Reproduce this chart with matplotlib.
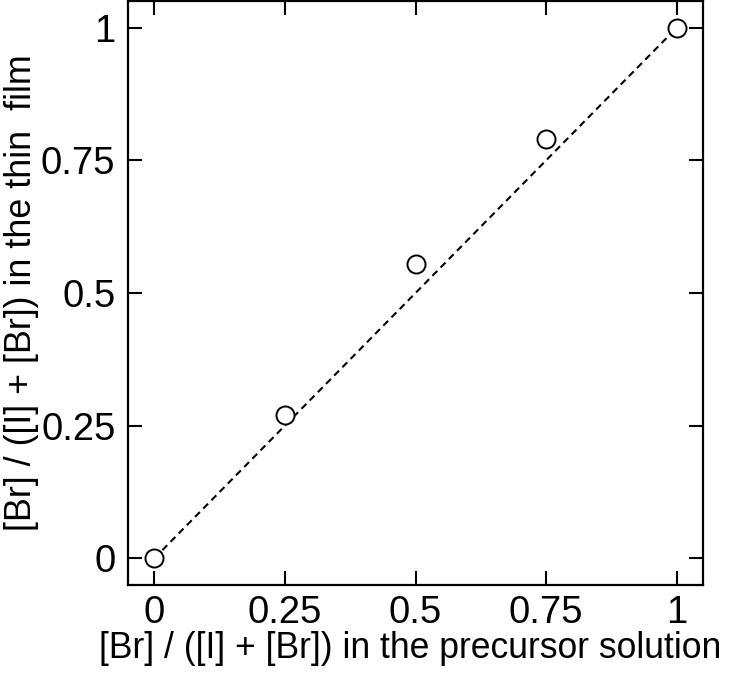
import matplotlib
matplotlib.use('Agg')
import matplotlib.pyplot as plt

# 前驱体溶液中的Br比例 与 薄膜中的Br比例
x_solution = [0, 0.25, 0.5, 0.75, 1.0]
y_film = [0.0, 0.27, 0.555, 0.79, 1.0]
fit_x = [0, 1]
fit_y = [0, 1]
ticks = [0, 0.25, 0.5, 0.75, 1]
tick_labels = ['0', '0.25', '0.5', '0.75', '1']

plt.rcParams['font.family'] = ['Liberation Sans', 'DejaVu Sans']

fig = plt.figure(figsize=(7.29, 6.74), dpi=100)
ax = fig.add_axes([128 / 729, 1 - 585 / 674, 575 / 729, 584 / 674])

ax.plot(fit_x, fit_y, linestyle=(0, (3.3, 2.3)), color='black', linewidth=1.5, zorder=1)
ax.plot(x_solution, y_film, linestyle='none', marker='o', markersize=13,
        markerfacecolor='white', markeredgecolor='black', markeredgewidth=1.4, zorder=2)

ax.set_xlim(-0.05, 1.05)
ax.set_ylim(-0.05, 1.05)
ax.set_xticks(ticks)
ax.set_xticklabels(tick_labels)
ax.set_yticks(ticks)
ax.set_yticklabels(tick_labels)
ax.tick_params(direction='in', length=10, width=1.5, labelsize=27.5,
               top=True, right=True, pad=7)
ax.tick_params(axis='y', pad=9)
for s in ax.spines.values():
    s.set_linewidth(1.6)

ax.set_xlabel('[Br] / ([I] + [Br]) in the precursor solution', fontsize=25.6)
ax.set_ylabel('[Br] / ([I] + [Br]) in the thin  film', fontsize=25.8)
ax.xaxis.set_label_coords(0.49, -0.078)
ax.yaxis.set_label_coords(-0.155, 0.5)

fig.savefig('out.png', dpi=100)
